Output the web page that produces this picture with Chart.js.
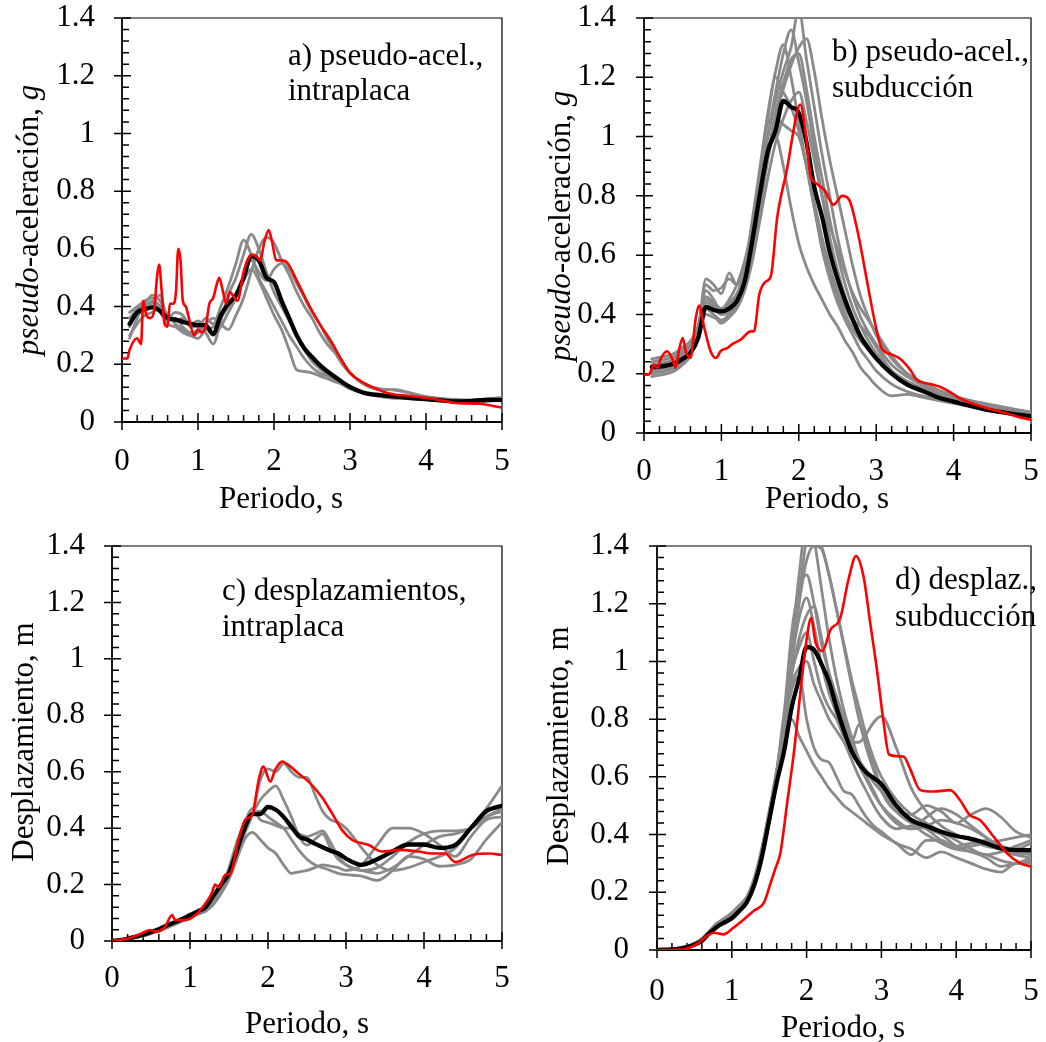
<!DOCTYPE html>
<html><head><meta charset="utf-8">
<script src="https://cdn.jsdelivr.net/npm/chart.js@4/dist/chart.umd.min.js"></script>
<style>
html,body{margin:0;padding:0;background:#fff;}
#wrap{position:relative;width:1046px;height:1042px;overflow:hidden;background:#fff;}
canvas{position:absolute;}
</style></head><body><div id="wrap">
<canvas id="ca" width="523" height="521" style="left:0px;top:0px"></canvas>
<canvas id="cb" width="523" height="521" style="left:523px;top:0px"></canvas>
<canvas id="cc" width="523" height="521" style="left:0px;top:521px"></canvas>
<canvas id="cd" width="523" height="521" style="left:523px;top:521px"></canvas>
</div>
<script>
// ---------- tick labels ----------
const Y_TICK_VALUES = [0,0.2,0.4,0.6,0.8,1,1.2,1.4];
const Y_TICK_LABELS = ['0','0.2','0.4','0.6','0.8','1','1.2','1.4'];
const X_TICK_VALUES = [0,1,2,3,4,5];
const X_TICK_LABELS = ['0','1','2','3','4','5'];
const Y_MINOR_STEP = 0.04;
const X_MINOR_STEP = 0.2;

// ---------- periods ----------
const PERIODS = [0.1,0.2,0.3,0.4,0.5,0.6,0.7,0.8,0.9,1.0,1.1,1.2,1.3,1.4,1.5,1.6,1.7,1.8,1.9,2.0,2.1,2.2,2.3,2.4,2.5,2.6,2.7,2.8,2.9,3.0,3.2,3.4,3.6,3.8,4.0,4.2,4.4,4.6,4.8,5.0];
const PERIODS_D = [0,0.1,0.2,0.3,0.4,0.5,0.6,0.7,0.8,0.9,1.0,1.1,1.2,1.3,1.4,1.5,1.6,1.7,1.8,1.9,2.0,2.1,2.2,2.3,2.4,2.5,2.6,2.7,2.8,2.9,3.0,3.2,3.4,3.6,3.8,4.0,4.2,4.4,4.6,4.8,5.0];

// ---------- a) pseudo-acel., intraplaca ----------
const A_MEAN = [.34,.38,.39,.397,.385,.36,.355,.347,.34,.336, .336,.305,.37,.41,.44,.50,.575,.56,.50,.485, .42,.36,.30,.255,.225,.198,.176,.157,.138,.122, .10,.093,.088,.083,.079,.075,.071,.073,.077,.076];
const A_G1 = [.38,.40,.42,.43,.38,.35,.36,.33,.31,.32, .36,.34,.40,.47,.55,.63,.58,.50,.45,.40, .35,.30,.26,.22,.19,.17,.16,.145,.13,.115, .10,.092,.088,.085,.08,.075,.07,.068,.072,.076];
const A_G2 = [.29,.36,.40,.41,.44,.36,.38,.37,.33,.33, .31,.27,.35,.44,.50,.58,.65,.60,.52,.45, .40,.35,.30,.25,.21,.185,.165,.15,.135,.12, .10,.088,.082,.083,.078,.073,.07,.069,.074,.078];
const A_G3 = [.33,.38,.40,.42,.40,.34,.33,.31,.30,.31, .34,.36,.34,.32,.37,.43,.52,.60,.64,.62, .56,.51,.45,.40,.36,.31,.27,.24,.20,.17, .13,.115,.11,.10,.087,.08,.075,.075,.08,.085];
const A_G4 = [.36,.39,.41,.44,.42,.37,.35,.36,.34,.35, .33,.30,.33,.38,.43,.50,.56,.52,.49,.53, .55,.53,.48,.43,.38,.34,.29,.25,.21,.17, .128,.112,.112,.10,.088,.082,.078,.076,.08,.083];
const A_G5 = [.30,.34,.37,.38,.40,.37,.34,.32,.30,.29, .32,.33,.36,.40,.44,.49,.53,.49,.43,.37, .32,.25,.18,.175,.17,.16,.15,.14,.13,.115, .098,.09,.085,.08,.077,.073,.07,.068,.072,.075];
const A_RED_T = [0,0.07,0.1,0.2,0.25,0.28,0.32,0.37,0.42,0.46,0.49,0.52,0.56,0.6,0.63,0.67,0.71,0.74,0.77,0.8,0.84,0.88,0.95,1.0,1.05,1.1,1.15,1.2,1.25,1.28,1.33,1.37,1.42,1.48,1.52,1.6,1.65,1.72,1.78,1.82,1.87,1.93,1.97,2.03,2.1,2.18,2.3,2.45,2.6,2.75,2.9,3.0,3.15,3.3,3.5,3.8,4.1,4.4,4.7,5.0];
const A_RED = [.22,.22,.25,.29,.27,.42,.37,.36,.38,.50,.545,.46,.34,.33,.41,.41,.45,.60,.56,.42,.40,.36,.30,.32,.31,.33,.41,.43,.48,.50,.45,.41,.45,.43,.42,.52,.56,.58,.57,.56,.62,.665,.63,.56,.56,.55,.49,.41,.34,.28,.21,.17,.14,.12,.10,.09,.08,.066,.063,.05];

// ---------- b) pseudo-acel., subducción ----------
const B_MEAN = [.222,.224,.228,.235,.25,.27,.32,.425,.415,.41, .42,.445,.51,.65,.81,.95,1.02,1.12,1.10,1.08, .98,.83,.73,.61,.52,.445,.38,.325,.285,.252, .20,.163,.142,.12,.106,.092,.08,.071,.063,.057];
const B_G1 = [.23,.235,.24,.25,.27,.29,.36,.46,.44,.42, .45,.50,.58,.70,.86,1.0,1.12,1.22,1.30,1.43, 1.26,1.10,.94,.80,.66,.55,.46,.39,.34,.30, .23,.19,.16,.135,.12,.105,.095,.085,.075,.067];
const B_G2 = [.21,.215,.22,.23,.25,.28,.34,.50,.48,.49, .52,.50,.55,.68,.84,1.0,1.15,1.28,1.36,1.25, 1.12,.96,.80,.66,.55,.46,.39,.33,.29,.25, .20,.17,.145,.125,.11,.098,.088,.08,.072,.065];
const B_G3 = [.25,.255,.26,.27,.29,.31,.36,.44,.42,.40, .43,.46,.52,.62,.76,.92,1.06,1.16,1.24,1.30, 1.33,1.22,1.06,.92,.80,.68,.56,.46,.39,.33, .25,.20,.17,.145,.125,.11,.10,.09,.08,.07];
const B_G4 = [.22,.225,.23,.24,.26,.29,.35,.52,.50,.47, .54,.50,.56,.72,.90,1.08,1.22,1.31,1.20,1.05, .90,.76,.64,.54,.46,.40,.35,.31,.28,.25, .20,.165,.14,.125,.11,.10,.09,.08,.072,.065];
const B_G5 = [.20,.205,.21,.22,.24,.27,.33,.40,.39,.38, .40,.43,.50,.62,.78,.94,1.08,1.18,1.26,1.28, 1.16,1.00,.86,.72,.60,.50,.42,.36,.31,.27, .21,.175,.15,.13,.115,.10,.09,.082,.074,.066];
const B_G6 = [.24,.245,.25,.26,.28,.30,.36,.48,.45,.41, .44,.47,.55,.70,.88,1.06,1.20,1.15,1.10,1.02, .90,.78,.66,.56,.48,.42,.38,.36,.33,.29, .21,.175,.15,.13,.115,.10,.09,.082,.074,.066];
const B_G7 = [.19,.195,.20,.21,.23,.26,.33,.42,.40,.37, .39,.42,.48,.58,.72,.86,.98,1.06,1.12,1.15, 1.05,.92,.80,.70,.62,.54,.47,.42,.38,.34, .26,.20,.17,.145,.125,.11,.098,.088,.078,.07];
const B_G8 = [.21,.215,.22,.23,.25,.28,.34,.45,.43,.40, .41,.45,.54,.70,.88,1.05,1.06,1.04,1.02,1.0, .90,.76,.62,.52,.44,.38,.33,.28,.245,.21, .165,.14,.125,.115,.105,.095,.088,.08,.072,.065];
const B_G9 = [.20,.205,.21,.22,.24,.27,.33,.42,.40,.38, .40,.44,.52,.66,.82,.94,1.0,.90,.76,.64, .56,.50,.45,.40,.36,.31,.27,.22,.19,.16, .125,.13,.12,.11,.10,.092,.085,.078,.07,.063];
const B_RED_T = [0,0.06,0.13,0.17,0.22,0.3,0.37,0.41,0.45,0.5,0.54,0.6,0.67,0.71,0.78,0.86,0.93,0.99,1.08,1.14,1.25,1.38,1.42,1.49,1.57,1.64,1.72,1.85,1.98,2.02,2.09,2.15,2.22,2.33,2.45,2.56,2.65,2.76,2.89,2.99,3.07,3.2,3.3,3.44,3.52,3.7,3.82,3.95,4.08,4.2,4.35,4.52,4.7,4.85,5.0];
const B_RED = [.197,.197,.23,.22,.253,.276,.247,.22,.276,.32,.276,.253,.39,.43,.354,.276,.253,.276,.287,.30,.315,.343,.343,.467,.51,.53,.725,.894,1.085,1.108,1.007,.87,.843,.82,.77,.80,.787,.68,.50,.365,.286,.265,.252,.213,.181,.165,.156,.139,.117,.104,.09,.078,.065,.053,.044];

// ---------- c) desplazamientos, intraplaca ----------
const C_MEAN = [0,.003,.008,.015,.022,.032,.042,.055,.066,.078,.092, .105,.12,.16,.20,.24,.32,.40,.45,.45,.475, .465,.44,.405,.37,.36,.345,.332,.32,.31,.292, .27,.29,.318,.342,.342,.33,.34,.40,.46,.479];
const C_G1 = [0,.003,.008,.014,.021,.03,.04,.052,.064,.076,.09, .10,.112,.14,.18,.23,.30,.38,.45,.57,.61, .60,.63,.60,.58,.58,.52,.46,.43,.42,.40, .33,.27,.25,.26,.28,.30,.33,.40,.47,.55];
const C_G2 = [0,.003,.008,.013,.02,.028,.038,.05,.062,.074,.088, .098,.108,.13,.17,.22,.30,.40,.45,.50,.53, .55,.50,.44,.37,.34,.36,.38,.33,.29,.27, .25,.24,.26,.30,.34,.37,.38,.40,.44,.47];
const C_G3 = [0,.003,.007,.013,.02,.028,.037,.048,.06,.072,.085, .097,.11,.14,.19,.26,.35,.42,.47,.43,.42, .41,.40,.40,.38,.37,.38,.39,.35,.30,.27, .25,.26,.30,.35,.38,.39,.39,.40,.44,.46];
const C_G4 = [0,.003,.007,.012,.018,.026,.035,.046,.058,.07,.083, .095,.105,.13,.17,.22,.29,.36,.385,.36,.33, .31,.27,.24,.245,.25,.26,.27,.265,.26,.25, .27,.34,.40,.40,.38,.34,.30,.37,.43,.44];
const C_G5 = [0,.003,.007,.012,.019,.027,.036,.047,.06,.073,.087, .10,.11,.135,.18,.25,.33,.40,.45,.46,.44, .42,.40,.36,.32,.29,.27,.26,.25,.24,.235, .23,.215,.25,.30,.29,.265,.27,.29,.36,.42];
const C_RED_T = [0,0.2,0.38,0.49,0.56,0.68,0.77,0.81,0.94,1.07,1.2,1.28,1.32,1.37,1.45,1.52,1.62,1.71,1.8,1.88,1.94,2.03,2.09,2.18,2.26,2.39,2.52,2.69,2.82,2.95,3.08,3.29,3.46,3.68,3.93,4.1,4.27,4.4,4.62,4.83,5.0];
const C_RED = [0,.008,.027,.039,.033,.05,.092,.074,.074,.092,.134,.17,.2,.19,.234,.24,.357,.43,.447,.57,.618,.565,.606,.636,.624,.594,.565,.51,.453,.393,.358,.34,.317,.323,.317,.31,.31,.28,.305,.31,.305];

// ---------- d) desplaz., subducción ----------
const D_MEAN = [0,.001,.002,.005,.01,.018,.032,.058,.08,.095,.11, .135,.165,.225,.32,.45,.58,.69,.84,.94,1.05, 1.04,.99,.93,.84,.76,.69,.645,.615,.595,.575, .50,.45,.43,.41,.395,.385,.37,.352,.346,.346];
const D_G1 = [0,.001,.003,.006,.012,.022,.038,.064,.09,.105,.12,.145,.175,.24,.34,.47, .62,.80,1.05,1.30,1.48, 1.42,1.25,1.08,.94,.83,.74,.66,.60,.55,.50, .44,.42,.43,.45,.44,.42,.39,.36,.35,.37];
const D_G2 = [0,.001,.003,.006,.011,.02,.035,.06,.085,.1,.115,.14,.17,.23,.33,.46, .60,.78,1.0,1.2,1.35, 1.40,1.39,1.30,1.18,1.06,.94,.84,.74,.66,.60, .52,.47,.44,.41,.38,.35,.33,.34,.36,.38];
const D_G3 = [0,.001,.002,.005,.01,.019,.033,.057,.082,.098,.112,.136,.165,.22,.32,.44, .58,.76,.98,1.22,1.42, 1.45,1.40,1.30,1.18,1.05,.92,.80,.70,.62,.55, .48,.47,.50,.48,.44,.47,.49,.46,.41,.39];
const D_G4 = [0,.001,.003,.007,.012,.021,.037,.062,.088,.103,.118,.143,.172,.235,.34,.47, .60,.80,1.0,1.15,1.22, 1.12,.99,.89,.82,.76,.70,.64,.59,.54,.50, .45,.42,.46,.49,.47,.43,.39,.35,.33,.34];
const D_G5 = [0,.001,.003,.006,.011,.02,.034,.058,.083,.1,.115,.14,.168,.225,.32,.45, .58,.76,.95,1.08,1.16, 1.19,1.08,.96,.86,.78,.72,.72,.75,.79,.81, .70,.56,.48,.43,.40,.38,.36,.35,.34,.33];
const D_G6 = [0,.001,.003,.007,.013,.023,.04,.066,.093,.11,.13,.155,.185,.25,.35,.48, .62,.82,.96,1.05,1.10, 1.0,.90,.84,.80,.74,.72,.78,.72,.64,.56, .48,.44,.42,.40,.36,.34,.33,.31,.30,.31];
const D_G7 = [0,.001,.003,.006,.012,.022,.038,.063,.09,.105,.125,.15,.18,.245,.35,.48, .62,.74,.80,.74,.69, .64,.60,.56,.53,.50,.48,.46,.44,.42,.40, .37,.33,.38,.38,.35,.34,.32,.29,.30,.32];
const D_G8 = [0,.001,.003,.006,.011,.021,.036,.06,.086,.1,.117,.14,.17,.23,.33,.46, .60,.76,.90,.95,.80, .70,.66,.65,.60,.55,.54,.50,.46,.43,.41, .37,.35,.32,.34,.32,.30,.28,.27,.30,.30];
const D_G9 = [0,.001,.003,.006,.011,.02,.035,.06,.085,.102,.118,.143,.172,.235,.34,.47, .61,.82,1.10,1.25,1.30, 1.20,1.06,.96,.88,.80,.72,.66,.62,.58,.55, .50,.45,.42,.38,.36,.37,.38,.36,.33,.32];
const D_G10 = [0,.001,.002,.005,.01,.019,.034,.058,.084,.1,.116,.14,.17,.232,.335,.465, .60,.78,.92,.98,1.0, .92,.86,.80,.76,.72,.66,.60,.55,.50,.46, .42,.43,.40,.37,.35,.36,.37,.38,.39,.40];
const D_RED_T = [0,0.36,0.53,0.67,0.76,0.89,1.02,1.16,1.29,1.43,1.52,1.58,1.65,1.74,1.83,1.92,2.0,2.06,2.12,2.21,2.32,2.45,2.56,2.66,2.76,2.85,2.94,3.03,3.1,3.2,3.3,3.38,3.52,3.69,3.92,4.05,4.18,4.32,4.5,4.68,4.86,5.0];
const D_RED = [0,.002,.02,.049,.06,.054,.077,.106,.135,.164,.233,.28,.337,.51,.684,.9,1.076,1.15,1.065,1.036,1.11,1.15,1.284,1.365,1.296,1.134,.972,.788,.678,.672,.67,.63,.554,.549,.554,.52,.468,.45,.393,.335,.30,.289];

// ---------- texts ----------
const TITLE_ACC = [{t:'pseudo',it:true},{t:'-aceleración, ',it:false},{t:'g',it:true}];
const TITLE_DISP = [{t:'Desplazamiento, m',it:false}];
const X_TITLE = 'Periodo, s';

// ---------- layout (page coordinates) ----------
const FONT = '"Liberation Serif","Times New Roman",Times,serif';
const FS = 31;
const GRAY = '#8a8a8a', BLACK = '#000000', RED = '#ff0000';

const PANELS = [
  {id:'ca', cx:0, cy:0, area:{l:122,t:18,r:502,b:422}, xPad:21, yPad:27,
   periods:PERIODS, grays:[A_G1,A_G2,A_G3,A_G4,A_G5], mean:A_MEAN, redT:A_RED_T, red:A_RED,
   ytitle:TITLE_ACC, ytx:38, yty:220, xtx:281, xty:508,
   notes:[['a) pseudo-acel.,',288,65],['intraplaca',288,100]]},
  {id:'cb', cx:523, cy:0, area:{l:644,t:18,r:1031,b:433}, xPad:20, yPad:28,
   periods:PERIODS, grays:[B_G1,B_G2,B_G3,B_G4,B_G5,B_G6,B_G7,B_G8,B_G9], mean:B_MEAN, redT:B_RED_T, red:B_RED,
   ytitle:TITLE_ACC, ytx:570, yty:226, xtx:827, xty:508,
   notes:[['b) pseudo-acel.,',832,61],['subducción',832,97]]},
  {id:'cc', cx:0, cy:521, area:{l:112,t:546,r:502,b:941}, xPad:19, yPad:27,
   periods:PERIODS_D, grays:[C_G1,C_G2,C_G3,C_G4,C_G5], mean:C_MEAN, redT:C_RED_T, red:C_RED,
   ytitle:TITLE_DISP, ytx:33, yty:742, xtx:307, xty:1033,
   notes:[['c) desplazamientos,',222,600],['intraplaca',222,636]]},
  {id:'cd', cx:523, cy:521, area:{l:657,t:546,r:1031,b:950}, xPad:23, yPad:28,
   periods:PERIODS_D, grays:[D_G1,D_G2,D_G3,D_G4,D_G5,D_G6,D_G7,D_G8,D_G9,D_G10], mean:D_MEAN, redT:D_RED_T, red:D_RED,
   ytitle:TITLE_DISP, ytx:568, yty:746, xtx:843, xty:1037,
   notes:[['d) desplaz.,',895,589],['subducción',895,626]]}
];

function pts(T, V){ return T.map((t,i)=>({x:t, y:V[i]})); }

function makeChart(p){
  const canvas = document.getElementById(p.id);
  const W = canvas.width, H = canvas.height;
  const datasets = [];
  datasets.push({data:pts(p.redT,p.red), borderColor:RED, borderWidth:2.6});
  datasets.push({data:pts(p.periods,p.mean), borderColor:BLACK, borderWidth:4.3});
  p.grays.forEach(g=>datasets.push({data:pts(p.periods,g), borderColor:GRAY, borderWidth:2.8}));
  datasets.forEach(d=>{ d.pointRadius=0; d.fill=false; d.cubicInterpolationMode='monotone'; d.borderJoinStyle='round'; d.borderCapStyle='round'; });

  const deco = {
    id:'deco_'+p.id,
    beforeDatasetsDraw(chart){
      const {ctx, chartArea:a, scales:{x,y}} = chart;
      ctx.save();
      ctx.strokeStyle='#000';
      ctx.lineWidth=1.2;
      ctx.beginPath(); ctx.moveTo(a.left,a.top); ctx.lineTo(a.right,a.top); ctx.lineTo(a.right,a.bottom); ctx.stroke();
      ctx.lineWidth=1.5;
      ctx.beginPath();
      const ny = Math.round(1.4/Y_MINOR_STEP);
      for(let k=0;k<=ny;k++){
        const py = y.getPixelForValue(k*Y_MINOR_STEP);
        const major = k%5===0;
        ctx.moveTo(a.left-(major?8:0), py); ctx.lineTo(a.left+(major?9:7), py);
      }
      const nx = Math.round(5/X_MINOR_STEP);
      for(let k=0;k<=nx;k++){
        const px = x.getPixelForValue(k*X_MINOR_STEP);
        const major = k%5===0;
        ctx.moveTo(px, a.bottom+(major?8:0)); ctx.lineTo(px, a.bottom-(major?9:7));
      }
      ctx.stroke();
      ctx.lineWidth=1.8;
      ctx.beginPath(); ctx.moveTo(a.left,a.top); ctx.lineTo(a.left,a.bottom); ctx.lineTo(a.right,a.bottom); ctx.stroke();
      ctx.restore();
    },
    afterDraw(chart){
      const ctx = chart.ctx;
      ctx.save();
      ctx.fillStyle='#000';
      ctx.textBaseline='alphabetic';
      ctx.save();
      ctx.translate(p.ytx-p.cx, p.yty-p.cy);
      ctx.rotate(-Math.PI/2);
      let total=0;
      p.ytitle.forEach(s=>{ ctx.font=(s.it?'italic ':'')+FS+'px '+FONT; total+=ctx.measureText(s.t).width; });
      let xx=-total/2;
      ctx.textAlign='left';
      p.ytitle.forEach(s=>{ ctx.font=(s.it?'italic ':'')+FS+'px '+FONT; ctx.fillText(s.t,xx,0); xx+=ctx.measureText(s.t).width; });
      ctx.restore();
      ctx.font=FS+'px '+FONT;
      ctx.textAlign='center';
      ctx.fillText(X_TITLE, p.xtx-p.cx, p.xty-p.cy);
      ctx.textAlign='left';
      p.notes.forEach(n=>ctx.fillText(n[0], n[1]-p.cx, n[2]-p.cy));
      ctx.restore();
    }
  };

  const a = p.area;
  return new Chart(canvas, {
    type:'line',
    data:{datasets},
    options:{
      responsive:false, animation:false, devicePixelRatio:1,
      layout:{padding:{left:0, top:a.t-p.cy, right:(p.cx+W)-a.r, bottom:0}},
      plugins:{legend:{display:false}, tooltip:{enabled:false}, title:{display:false}},
      scales:{
        x:{type:'linear', min:0, max:5,
           grid:{display:false, drawTicks:true, tickLength:p.xPad}, border:{display:false},
           afterBuildTicks:s=>{ s.ticks = X_TICK_VALUES.map(v=>({value:v})); },
           afterFit:s=>{ s.height = (p.cy+H)-a.b; },
           ticks:{padding:0, color:'#000', maxRotation:0, autoSkip:false,
                  font:{family:FONT, size:FS},
                  callback:(v,i)=>X_TICK_LABELS[i]}},
        y:{type:'linear', min:0, max:1.4,
           grid:{display:false, drawTicks:true, tickLength:p.yPad}, border:{display:false},
           afterBuildTicks:s=>{ s.ticks = Y_TICK_VALUES.map(v=>({value:v})); },
           afterFit:s=>{ s.width = a.l-p.cx; },
           ticks:{padding:0, color:'#000', autoSkip:false,
                  font:{family:FONT, size:FS, lineHeight:1},
                  callback:(v,i)=>Y_TICK_LABELS[i]}}
      }
    },
    plugins:[deco]
  });
}
PANELS.forEach(makeChart);
</script>
</body></html>
